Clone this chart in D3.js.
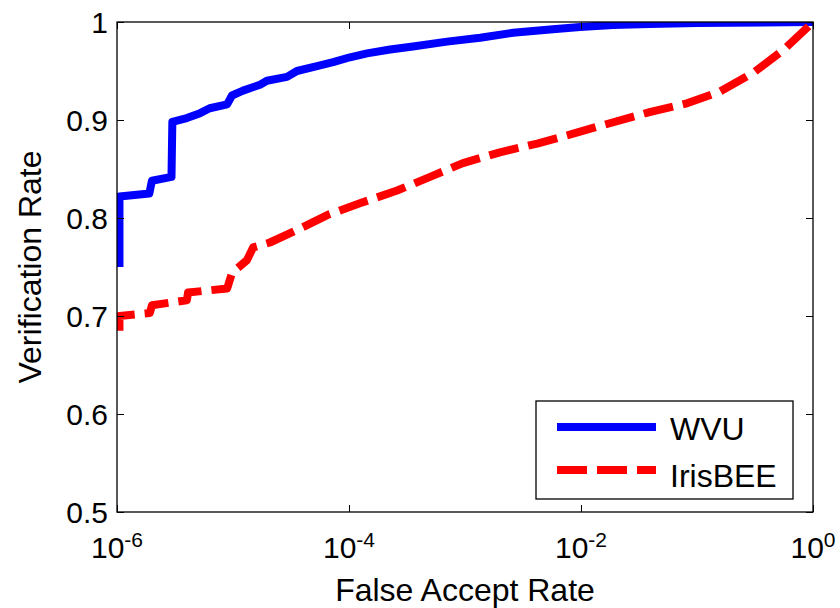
<!DOCTYPE html>
<html>
<head>
<meta charset="utf-8">
<script src="https://cdn.jsdelivr.net/npm/d3@7"></script>
<style>
  body { margin: 0; background: #fff; }
  svg { display: block; font-family: "Liberation Sans", Arial, sans-serif; }
</style>
</head>
<body>
<svg id="chart" width="840" height="608"></svg>
<script>
// ROC curves
const wvuFar = [1.05e-6, 1.05e-6, 1.9e-6, 2.0e-6, 2.95e-6, 3.0e-6, 4.0e-6, 5.2e-6, 6.3e-6, 8.9e-6,
    9.8e-6, 1.22e-5, 1.71e-5, 1.96e-5, 2.92e-5, 3.56e-5, 5.3e-5, 7.3e-5, 1.02e-4, 1.43e-4,
    2.26e-4, 3.56e-4, 7.0e-4, 1.35e-3, 2.6e-3, 5.1e-3, 9.8e-3, 1.89e-2, 3.9e-2, 0.1, 1];
const wvuRate = [0.75, 0.822, 0.825, 0.838, 0.842, 0.898, 0.902, 0.907, 0.912, 0.916,
    0.925, 0.930, 0.936, 0.940, 0.944, 0.950, 0.955, 0.959, 0.964, 0.968,
    0.972, 0.975, 0.980, 0.984, 0.989, 0.992, 0.995, 0.997, 0.998, 0.999, 1.0];

const beeFar = [1.05e-6, 1.05e-6, 1.92e-6, 2.0e-6, 4.0e-6, 4.1e-6, 8.9e-6, 9.8e-6, 1.32e-5, 1.49e-5,
    2.08e-5, 3.6e-5, 6.5e-5, 1.24e-4, 2.6e-4, 5.0e-4, 9.6e-4, 2.0e-3, 4.2e-3, 8.0e-3,
    1.37e-2, 3.9e-2, 8.2e-2, 0.158, 0.304, 0.55, 0.887, 1];
const beeRate = [0.685, 0.700, 0.703, 0.711, 0.716, 0.724, 0.728, 0.744, 0.757, 0.770,
    0.775, 0.788, 0.803, 0.815, 0.828, 0.842, 0.856, 0.867, 0.876, 0.885,
    0.893, 0.908, 0.917, 0.929, 0.948, 0.971, 0.994, 1.0];

const seriesNames = ['WVU', 'IrisBEE'];
const seriesColours = ['#0000ff', '#ff0000'];
const xTicks = [1e-6, 1e-4, 1e-2, 1];
const xTickExp = ['-6', '-4', '-2', '0'];
const yTicks = [0.5, 0.6, 0.7, 0.8, 0.9, 1];
const yTickLabels = ['0.5', '0.6', '0.7', '0.8', '0.9', '1'];

const svg = d3.select('#chart');
const plotLeft = 117, plotTop = 22, plotRight = 813, plotBottom = 512;

const x = d3.scaleLog().domain([1e-6, 1]).range([plotLeft, plotRight]);
const y = d3.scaleLinear().domain([0.5, 1]).range([plotBottom, plotTop]);

svg.append('clipPath').attr('id', 'plot-clip')
    .append('rect')
    .attr('x', plotLeft).attr('y', plotTop)
    .attr('width', plotRight - plotLeft).attr('height', plotBottom - plotTop);

const line = d3.line().x(d => x(d[0])).y(d => y(d[1]));

const series = [
    { pts: d3.zip(wvuFar, wvuRate), dash: null },
    { pts: d3.zip(beeFar, beeRate), dash: '30,10' }
];

const plot = svg.append('g').attr('clip-path', 'url(#plot-clip)');
series.forEach((s, i) => {
    plot.append('path')
        .attr('d', line(s.pts))
        .attr('fill', 'none')
        .attr('stroke', seriesColours[i])
        .attr('stroke-width', 8)
        .attr('stroke-linejoin', 'round')
        .attr('stroke-dasharray', s.dash);
});

// box + inward ticks on all four sides
function styleAxis(g) {
    g.select('.domain').remove();
    g.selectAll('.tick line').attr('stroke', '#000').attr('stroke-width', 1);
}
svg.append('g').attr('transform', `translate(0,${plotBottom})`)
    .call(d3.axisBottom(x).tickValues(xTicks).tickSize(-7).tickFormat(''))
    .call(styleAxis);
svg.append('g').attr('transform', `translate(0,${plotTop})`)
    .call(d3.axisTop(x).tickValues(xTicks).tickSize(-7).tickFormat(''))
    .call(styleAxis);
svg.append('g').attr('transform', `translate(${plotLeft},0)`)
    .call(d3.axisLeft(y).tickValues(yTicks).tickSize(-7).tickFormat(''))
    .call(styleAxis);
svg.append('g').attr('transform', `translate(${plotRight},0)`)
    .call(d3.axisRight(y).tickValues(yTicks).tickSize(-7).tickFormat(''))
    .call(styleAxis);

svg.append('rect')
    .attr('x', plotLeft).attr('y', plotTop)
    .attr('width', plotRight - plotLeft).attr('height', plotBottom - plotTop)
    .attr('fill', 'none').attr('stroke', '#000').attr('stroke-width', 1.3);

// tick labels
svg.append('g').selectAll('text')
    .data(yTicks)
    .enter()
    .append('text')
    .attr('x', 108)
    .attr('y', d => y(d))
    .attr('dy', '0.36em')
    .attr('text-anchor', 'end')
    .attr('font-size', 30)
    .attr('fill', '#000')
    .text((d, i) => yTickLabels[i]);

const xLab = svg.append('g').selectAll('text')
    .data(xTicks)
    .enter()
    .append('text')
    .attr('x', d => x(d))
    .attr('y', 558)
    .attr('text-anchor', 'middle')
    .attr('font-size', 30)
    .attr('fill', '#000');
xLab.append('tspan').text('10');
xLab.append('tspan').attr('dy', -11).attr('font-size', 21).text((d, i) => xTickExp[i]);

// axis titles
svg.append('text')
    .attr('x', (plotLeft + plotRight) / 2)
    .attr('y', 601)
    .attr('text-anchor', 'middle')
    .attr('font-size', 32)
    .text('False Accept Rate');

svg.append('text')
    .attr('transform', `translate(41,${(plotTop + plotBottom) / 2}) rotate(-90)`)
    .attr('text-anchor', 'middle')
    .attr('font-size', 32)
    .text('Verification Rate');

// legend
const legend = svg.append('g');
legend.append('rect')
    .attr('x', 536).attr('y', 401)
    .attr('width', 257).attr('height', 98)
    .attr('fill', '#fff').attr('stroke', '#000').attr('stroke-width', 1.3);

const legendRows = legend.selectAll('g.row')
    .data(seriesNames)
    .enter()
    .append('g')
    .attr('class', 'row')
    .attr('transform', (d, i) => `translate(0,${427 + i * 43})`);

legendRows.append('line')
    .attr('x1', 557).attr('x2', 656)
    .attr('stroke', (d, i) => seriesColours[i])
    .attr('stroke-width', 8)
    .attr('stroke-dasharray', (d, i) => series[i].dash);

legendRows.append('text')
    .attr('x', 670)
    .attr('y', (d, i) => 13 + i * 4)
    .attr('font-size', 32)
    .text(d => d);
</script>
</body>
</html>
